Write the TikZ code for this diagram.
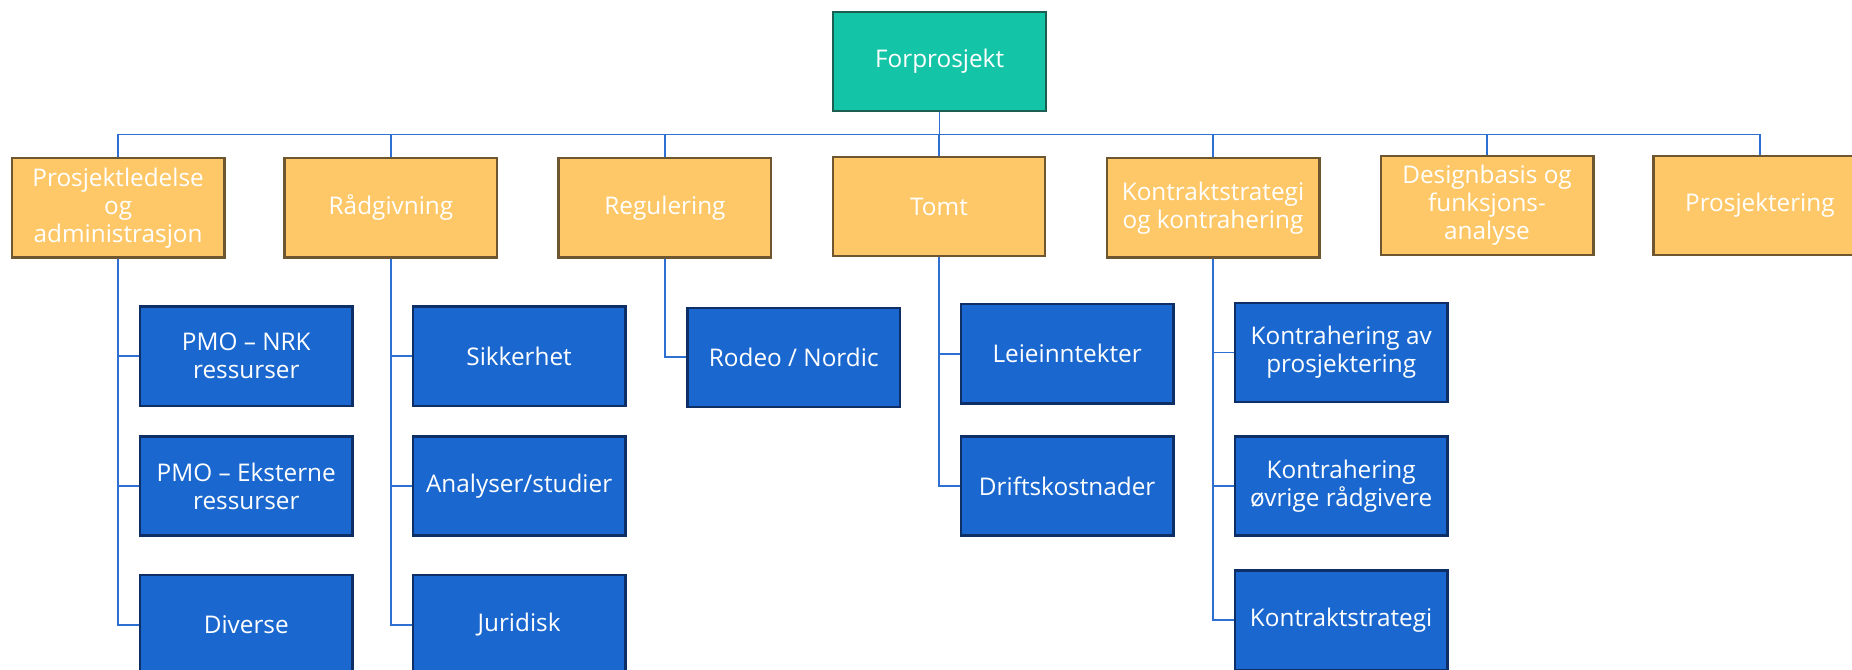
\documentclass[tikz,border=0pt]{standalone}
\usepackage{fontspec}
\setmainfont{Open Sans}
\definecolor{topfill}{HTML}{14C4A7}
\definecolor{topedge}{HTML}{1D5E52}
\definecolor{fasefill}{HTML}{FEC868}
\definecolor{faseedge}{HTML}{6E5630}
\definecolor{delfill}{HTML}{1A68CF}
\definecolor{deledge}{HTML}{0E2F66}
\definecolor{linkblue}{HTML}{2E6FD2}
\begin{document}
\begin{tikzpicture}[x=0.5pt,y=-0.5pt,
  box/.style={draw, line width=1pt, minimum width=90pt, minimum height=42pt,
    inner sep=2pt, align=center, text=white, font=\fontsize{10.3}{11.8}\selectfont},
  topbox/.style={box, fill=topfill, draw=topedge},
  fasebox/.style={box, fill=fasefill, draw=faseedge},
  delbox/.style={box, fill=delfill, draw=deledge},
  link/.style={draw=linkblue, line width=0.7pt}]
\useasboundingbox (0,0) rectangle (1568,567);

\node[topbox] (fp) at (795.5,52) {Forprosjekt};
\coordinate (bus) at (0,114);

\node[fasebox] (pl) at (100,176) {Prosjektledelse\\og\\administrasjon};
\node[fasebox] (rg) at (331,176) {Rådgivning};
\node[fasebox] (rl) at (563,176) {Regulering};
\node[fasebox] (tm) at (795,175) {Tomt};
\node[fasebox] (ks) at (1027,176) {Kontraktstrategi\\og kontrahering};
\node[fasebox] (db) at (1259,174) {Designbasis og\\funksjons-\\analyse};
\node[fasebox] (pr) at (1490,174) {Prosjektering};

\node[delbox] (pl1) at (208.5,301.5) {PMO – NRK\\ressurser};
\node[delbox] (pl2) at (208.5,411.5) {PMO – Eksterne\\ressurser};
\node[delbox] (pl3) at (208.5,529) {Diverse};

\node[delbox] (rg1) at (439.5,301.5) {Sikkerhet};
\node[delbox] (rg2) at (439.5,411.5) {Analyser/studier};
\node[delbox] (rg3) at (439.5,529) {Juridisk};

\node[delbox] (rl1) at (672,302.5) {Rodeo / Nordic};

\node[delbox] (tm1) at (903.5,299.5) {Leieinntekter};
\node[delbox] (tm2) at (903.5,411.5) {Driftskostnader};

\node[delbox] (ks1) at (1135.5,298.5) {Kontrahering av\\prosjektering};
\node[delbox] (ks2) at (1135.5,411.5) {Kontrahering\\øvrige rådgivere};
\node[delbox] (ks3) at (1135.5,525) {Kontraktstrategi};

\foreach \f in {pl,rg,rl,tm,ks,db,pr}
  \draw[link] (fp.south) -- (fp.south |- bus) -| (\f.north);
\foreach \p/\c in {pl/pl1,pl/pl2,pl/pl3,rg/rg1,rg/rg2,rg/rg3,rl/rl1,
    tm/tm1,tm/tm2,ks/ks1,ks/ks2,ks/ks3}
  \draw[link] (\p.south) |- (\c.west);
\end{tikzpicture}
\end{document}
